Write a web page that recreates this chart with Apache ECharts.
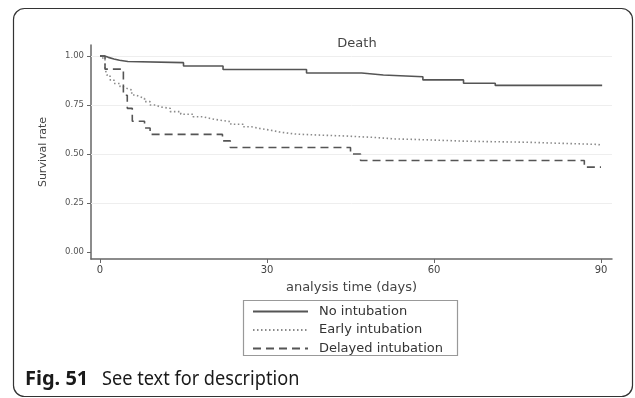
<!DOCTYPE html>
<html>
<head>
<meta charset="utf-8">
<script src="https://cdn.jsdelivr.net/npm/echarts@6.0.0/dist/echarts.min.js"></script>
<style>
html,body{margin:0;padding:0;background:#fff;}
#chart{width:635px;height:398px;}
</style>
</head>
<body>
<div id="chart"></div>
<script>
// ---- data ----
var chartTitle = 'Death';
var xTicks = [0, 30, 60, 90];
var yTicks = [0, 0.25, 0.5, 0.75, 1.0];
var seriesNames = ['No intubation', 'Early intubation', 'Delayed intubation'];

var noIntDays = [0, 0.8, 1.5, 2.5, 3.5, 5, 15, 22.1, 37.1, 47, 50.9, 58, 65.3, 71, 90.2];
var noIntSurv = [1.0, 0.993, 0.985, 0.978, 0.972, 0.966, 0.949, 0.931, 0.913, 0.903, 0.894, 0.878, 0.861, 0.850, 0.850];

var earlyDays = [0, 0.5, 0.9, 1.2, 1.8, 2.5, 3.6, 4.2, 4.8, 5.7, 6.4, 7.2, 8.0, 9.0, 10.0, 10.8, 12.6, 14.5, 16.7, 18.5, 20.0, 21.6, 23.5, 25.7, 27.2, 28.7, 30.5, 32.3, 35, 38, 40.8, 44, 46.7, 49, 53, 57, 61, 65, 70, 76.7, 82, 86, 89.3, 90];
var earlySurv = [1.0, 0.985, 0.94, 0.903, 0.878, 0.86, 0.843, 0.835, 0.827, 0.801, 0.792, 0.784, 0.767, 0.75, 0.74, 0.733, 0.716, 0.703, 0.69, 0.68, 0.672, 0.665, 0.652, 0.639, 0.63, 0.622, 0.612, 0.602, 0.598, 0.595, 0.592, 0.588, 0.585, 0.577, 0.574, 0.57, 0.566, 0.563, 0.56, 0.555, 0.552, 0.549, 0.546, 0.546];

var delayedDays = [0, 0.9, 4.2, 4.9, 5.8, 8.0, 9.0, 22.0, 23.4, 45.0, 46.8, 87.0, 90];
var delayedSurv = [1.0, 0.933, 0.80, 0.733, 0.667, 0.633, 0.60, 0.567, 0.533, 0.50, 0.467, 0.433, 0.433];

var gridValues = [0.25, 0.5, 0.75, 1.0];

function pairs(xs, ys){ return xs.map(function(x,i){ return [x, ys[i]]; }); }

var FONT = 'DejaVu Sans';
var chart = echarts.init(document.getElementById('chart'), null, {renderer:'canvas'});

var option = {
  backgroundColor: '#ffffff',
  animation: false,
  title: {
    text: chartTitle,
    left: 352, top: 32, textAlign: 'center',
    textStyle: {fontFamily: FONT, fontSize: 13, fontWeight: 'normal', color: '#444'}
  },
  grid: {left: 91, top: 45, width: 521, height: 214, containLabel: false},
  xAxis: {
    type: 'value', min: -1.617, max: 91.97,
    name: 'analysis time (days)', nameLocation: 'middle', nameGap: 22,
    nameTextStyle: {fontFamily: FONT, fontSize: 13, color: '#444'},
    axisLine: {show: true, onZero: false, lineStyle: {color: '#666', width: 1.5}},
    axisTick: {show: true, customValues: xTicks, length: 4, lineStyle: {color: '#666'}},
    axisLabel: {customValues: xTicks, margin: 6, fontFamily: FONT, fontSize: 10, color: '#444'},
    splitLine: {show: false}
  },
  yAxis: {
    type: 'value', min: -0.0357, max: 1.0561,
    name: 'Survival rate', nameLocation: 'middle', nameGap: 42, nameRotate: 90,
    nameTextStyle: {fontFamily: FONT, fontSize: 11, color: '#444'},
    axisLine: {show: true, onZero: false, lineStyle: {color: '#666', width: 1.5}},
    axisTick: {show: true, customValues: yTicks, length: 4, lineStyle: {color: '#666'}},
    axisLabel: {customValues: yTicks, margin: 7, fontFamily: FONT, fontSize: 8.5, color: '#555',
      formatter: function(v){ return v.toFixed(2); }},
    splitLine: {show: false}
  },
  legend: {
    orient: 'vertical', left: 252, top: 305,
    padding: 0, itemGap: 5.5, itemWidth: 55, itemHeight: 12,
    data: seriesNames,
    itemStyle: {opacity: 0},
    textStyle: {fontFamily: FONT, fontSize: 13, color: '#333', padding: [0,0,0,6]},
    selectedMode: false
  },
  series: [
    {
      name: seriesNames[0], type: 'line', step: 'end', symbol: 'none', showSymbol: false,
      data: pairs(noIntDays, noIntSurv),
      lineStyle: {color: '#555', width: 1.6, type: 'solid'},
      itemStyle: {color: '#555'},
      z: 5,
      markLine: {
        silent: true, symbol: 'none', label: {show: false},
        lineStyle: {color: '#eeeeee', width: 1, type: 'solid'},
        data: gridValues.map(function(v){ return {yAxis: v}; }),
        z: 1
      }
    },
    {
      name: seriesNames[1], type: 'line', step: 'end', symbol: 'none', showSymbol: false,
      data: pairs(earlyDays, earlySurv),
      lineStyle: {color: '#8a8a8a', width: 1.6, type: [1.5, 2.5]},
      itemStyle: {color: '#8a8a8a'},
      z: 4
    },
    {
      name: seriesNames[2], type: 'line', step: 'end', symbol: 'none', showSymbol: false,
      data: pairs(delayedDays, delayedSurv),
      lineStyle: {color: '#555', width: 1.6, type: [8, 5]},
      itemStyle: {color: '#555'},
      z: 4
    }
  ],
  graphic: [
    {type: 'rect', shape: {x: 13.5, y: 8.5, width: 619, height: 388, r: 11},
     style: {fill: 'none', stroke: '#333', lineWidth: 1.2}, silent: true, z: 0},
    {type: 'rect', shape: {x: 243.5, y: 300.5, width: 214, height: 55},
     style: {fill: 'none', stroke: '#999', lineWidth: 1.2}, silent: true, z: 0},
    {type: 'text', x: 25, y: 379, style: {text: 'Fig. 51', fontFamily: 'Noto Sans', fontWeight: 'bold', fontSize: 20, fill: '#1a1a1a', verticalAlign: 'middle'}, z: 10},
    {type: 'text', x: 102, y: 379, scaleX: 0.907, style: {text: 'See text for description', fontFamily: 'Noto Sans', fontSize: 20, fill: '#1a1a1a', verticalAlign: 'middle'}, z: 10}
  ]
};
chart.setOption(option);
</script>
</body>
</html>
